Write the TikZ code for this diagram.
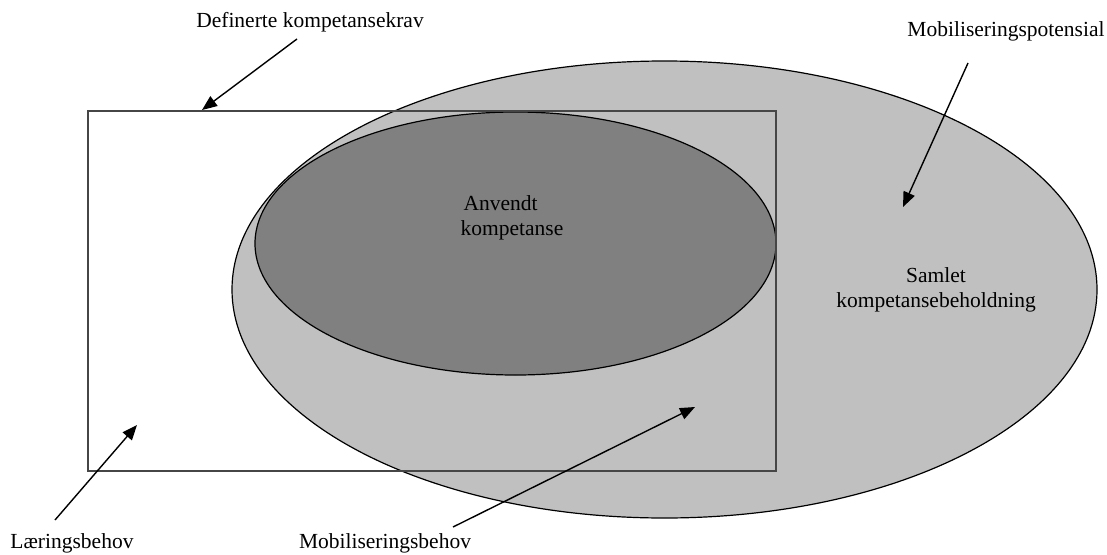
\documentclass[tikz,border=0pt]{standalone}
\usepackage{fontspec}
\setmainfont{Liberation Serif}
\usetikzlibrary{shapes.geometric,arrows.meta}
\definecolor{lightfill}{RGB}{192,192,192}
\definecolor{darkfill}{RGB}{128,128,128}
\definecolor{boxline}{RGB}{70,70,70}
\tikzset{
  lbl/.style={font=\fontsize{21.5}{25}\selectfont, inner sep=0pt},
  ptr/.style={draw=black, line width=1.4pt, -{Triangle[length=15pt,width=12pt]}},
  oval/.style={ellipse, draw=black, line width=1.2pt, inner sep=0pt}
}
\begin{document}
\begin{tikzpicture}[x=1pt,y=-1pt]
\useasboundingbox (0,0) rectangle (1107,554);
\fill[white] (0,0) rectangle (1107,554);
% ellipses
\node[oval, fill=lightfill, minimum width=865pt, minimum height=457pt] (total) at (664.5,289.5) {};
\node[oval, fill=darkfill, minimum width=521pt, minimum height=263pt] (used) at (515.5,243.5) {};
% rectangle of required competence
\draw[boxline, line width=2pt] (88,111) rectangle (776,471);
% labels
\node[lbl] (def) at (310,22) {Definerte kompetansekrav};
\node[lbl] (mobpot) at (1006,31) {Mobiliseringspotensial};
\node[lbl, align=left] (anv) at (512,218) {\hspace*{3pt}Anvendt\\kompetanse};
\node[lbl, align=center] (saml) at (936,290) {Samlet\\kompetansebeholdning};
\node[lbl] (laer) at (72,543) {Læringsbehov};
\node[lbl] (mobbeh) at (385,543) {Mobiliseringsbehov};
% arrow endpoints
\coordinate (a1s) at (297,39);
\coordinate (a1e) at (202,110);
\coordinate (a2s) at (968,63);
\coordinate (a2e) at (903,207);
\coordinate (a3s) at (55,520);
\coordinate (a3e) at (137,425);
\coordinate (a4s) at (453,527);
\coordinate (a4e) at (695,407);
\draw[ptr] (a1s) -- (a1e);
\draw[ptr] (a2s) -- (a2e);
\draw[ptr] (a3s) -- (a3e);
\draw[ptr] (a4s) -- (a4e);
\end{tikzpicture}
\end{document}
